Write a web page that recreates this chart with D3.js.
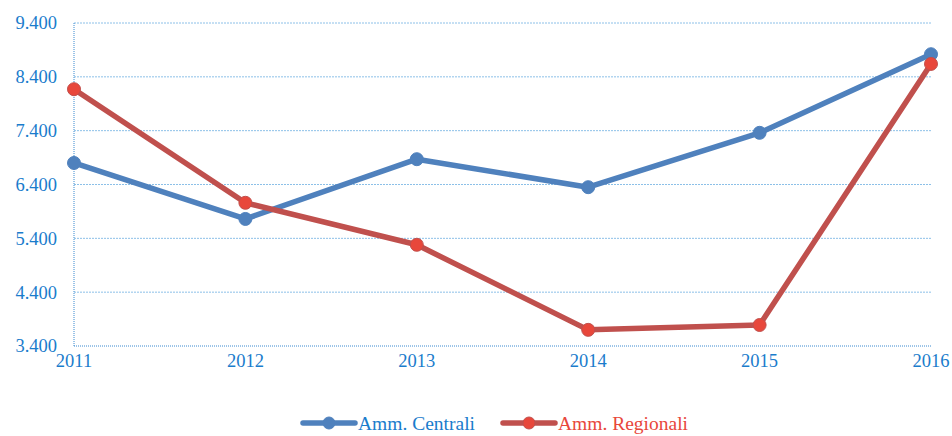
<!DOCTYPE html>
<html>
<head>
<meta charset="utf-8">
<script src="https://cdn.jsdelivr.net/npm/d3@7"></script>
<style>
  body { margin: 0; background: #fff; }
  svg { display: block; }
  text { font-family: "Liberation Serif", "Times New Roman", serif; }
</style>
</head>
<body>
<svg width="952" height="436"></svg>
<script>
const years = [2011, 2012, 2013, 2014, 2015, 2016];
const centrali = [6800, 5760, 6870, 6350, 7360, 8820];
const regionali = [8170, 6060, 5280, 3700, 3790, 8640];
const yTicks = [3400, 4400, 5400, 6400, 7400, 8400, 9400];
const seriesNames = ['Amm. Centrali', 'Amm. Regionali'];

const svg = d3.select('svg');
const plot = { left: 74, right: 931, top: 23, bottom: 346 };
const tickColor = '#1a7ccc';

const x = d3.scaleLinear().domain([2011, 2016]).range([plot.left, plot.right]);
const y = d3.scaleLinear().domain([3400, 9400]).range([plot.bottom, plot.top]);

// grid
svg.append('g').selectAll('line').data(yTicks.slice(1)).join('line')
    .attr('x1', plot.left).attr('x2', plot.right)
    .attr('y1', d => y(d)).attr('y2', d => y(d))
    .attr('stroke', '#8cc0e8').attr('stroke-width', 1)
    .attr('stroke-dasharray', '2,1');

// axes lines
svg.append('line').attr('x1', plot.left).attr('x2', plot.left).attr('y1', plot.top).attr('y2', plot.bottom)
    .attr('stroke', '#3a8ad0').attr('stroke-width', 1).attr('stroke-dasharray', '1,1');
svg.append('line').attr('x1', plot.left).attr('x2', plot.right).attr('y1', plot.bottom).attr('y2', plot.bottom)
    .attr('stroke', '#3a8ad0').attr('stroke-width', 1).attr('stroke-dasharray', '1,1');

const fmt = d => d3.format(',')(d).replace(',', '.');

svg.append('g').selectAll('text').data(yTicks).join('text')
    .attr('x', 57).attr('y', d => y(d)).attr('dy', '0.35em')
    .attr('text-anchor', 'end').attr('font-size', 18.5).attr('fill', tickColor)
    .text(fmt);

svg.append('g').selectAll('text').data(years).join('text')
    .attr('x', d => x(d)).attr('y', 361).attr('dy', '0.35em')
    .attr('text-anchor', 'middle').attr('font-size', 18.5).attr('fill', tickColor)
    .text(d => d);

const series = [
    { name: seriesNames[0], values: centrali, line: '#4f81bd', dot: '#4f81bd', label: '#1a7ccc' },
    { name: seriesNames[1], values: regionali, line: '#c0504d', dot: '#e8473b', label: '#e8473b' }
];

const line = d3.line().x((d, i) => x(years[i])).y(d => y(d));

series.forEach(s => {
    svg.append('path').datum(s.values)
        .attr('d', line).attr('fill', 'none')
        .attr('stroke', s.line).attr('stroke-width', 5.5)
        .attr('stroke-linejoin', 'round');
    svg.append('g').selectAll('circle').data(s.values).join('circle')
        .attr('cx', (d, i) => x(years[i])).attr('cy', d => y(d)).attr('r', 6.5)
        .attr('fill', s.dot).attr('stroke', s.line).attr('stroke-width', 1);
});

// legend (pulled up a little so the text is not clipped by the bottom edge)
const legend = svg.append('g');
series.forEach((s, i) => {
    const lx = 303 + i * 200, ly = 423;
    legend.append('line').attr('x1', lx).attr('x2', lx + 52).attr('y1', ly).attr('y2', ly)
        .attr('stroke', s.line).attr('stroke-width', 5.5).attr('stroke-linecap', 'round');
    legend.append('circle').attr('cx', lx + 26).attr('cy', ly).attr('r', 6)
        .attr('fill', s.dot).attr('stroke', s.line);
    legend.append('text').attr('x', lx + 55).attr('y', ly).attr('dy', '0.35em')
        .attr('font-size', 19.5).attr('fill', s.label).text(s.name);
});
</script>
</body>
</html>
